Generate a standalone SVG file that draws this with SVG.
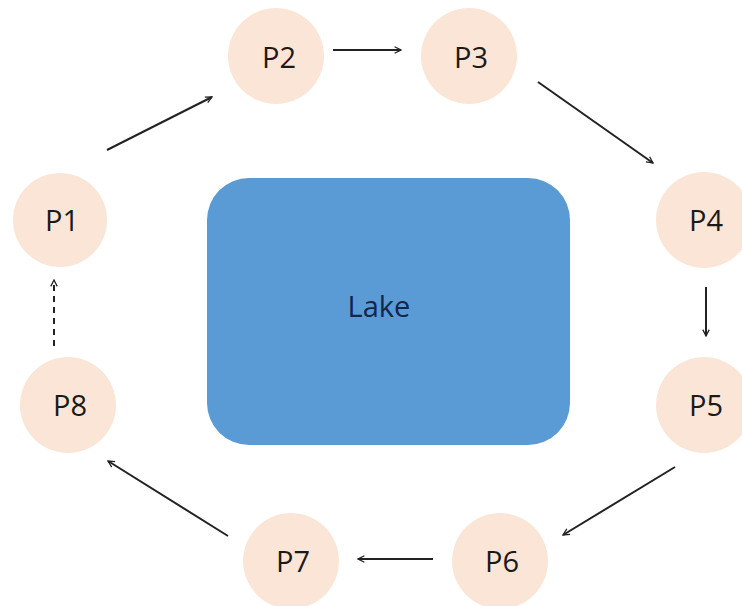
<svg xmlns="http://www.w3.org/2000/svg" width="742" height="606" viewBox="0 0 742 606">
<style>
.node circle{fill:#FBE5D6;}
.node text{font-family:"Open Sans",sans-serif;font-size:29px;fill:#1a1a1a;text-anchor:middle;}
.lake text{font-family:"Open Sans",sans-serif;font-size:29px;fill:#14264a;text-anchor:middle;}
.edges line{stroke:#222;stroke-width:2;marker-end:url(#arr);}
</style>
<defs>
<marker id="arr" viewBox="0 0 10 10" refX="9" refY="5" markerWidth="8" markerHeight="8" markerUnits="userSpaceOnUse" orient="auto">
<path d="M1,1 L9,5 L1,9" fill="none" stroke="#222" stroke-width="1.6"/>
</marker>
</defs>
<rect width="742" height="606" fill="#fff"/>
<g id="lake" class="lake">
<rect x="207" y="178" width="363" height="267" rx="42" fill="#5B9BD5"/>
<text x="379" y="317">Lake</text>
</g>
<g id="P1" class="node"><circle cx="60" cy="220" r="47"/><text x="62" y="231">P1</text></g>
<g id="P2" class="node"><circle cx="276" cy="56" r="48"/><text x="279" y="68">P2</text></g>
<g id="P3" class="node"><circle cx="469" cy="56" r="48"/><text x="471" y="68">P3</text></g>
<g id="P4" class="node"><circle cx="704" cy="220" r="48"/><text x="706" y="231">P4</text></g>
<g id="P5" class="node"><circle cx="704" cy="405" r="48"/><text x="706" y="416">P5</text></g>
<g id="P6" class="node"><circle cx="500" cy="561" r="48"/><text x="502" y="572">P6</text></g>
<g id="P7" class="node"><circle cx="291" cy="561" r="48"/><text x="293" y="572">P7</text></g>
<g id="P8" class="node"><circle cx="68" cy="405" r="48"/><text x="70" y="416">P8</text></g>
<g id="edges" class="edges">
<line x1="107" y1="150" x2="212" y2="97"/>
<line x1="333" y1="50" x2="401" y2="50"/>
<line x1="538" y1="82" x2="653" y2="163"/>
<line x1="706" y1="287" x2="706" y2="336"/>
<line x1="675" y1="467" x2="563" y2="535"/>
<line x1="433" y1="559" x2="358" y2="559"/>
<line x1="228" y1="536" x2="108" y2="461"/>
<line x1="54" y1="346" x2="54" y2="280" stroke-dasharray="6,5"/>
</g>
</svg>
